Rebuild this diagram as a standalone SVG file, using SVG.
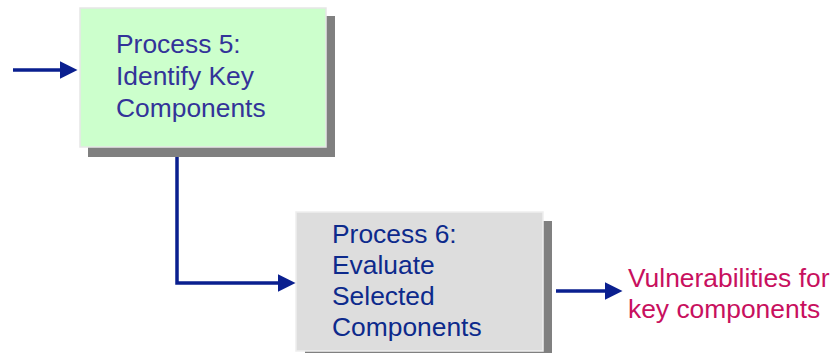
<svg xmlns="http://www.w3.org/2000/svg" width="839" height="353" viewBox="0 0 839 353">
<style>
.shadow{fill:#808080}
.t{font-family:"Liberation Sans",Arial,sans-serif;font-size:26.4px}
.c{stroke:#0A1F8F;stroke-width:3.5;fill:none}
</style>
<defs>
<marker id="ah" markerWidth="5" markerHeight="5" refX="0" refY="2.5" orient="auto" markerUnits="strokeWidth">
<path d="M0,0 L5,2.5 L0,5 Z" fill="#0A1F8F"/>
</marker>
</defs>
<rect width="839" height="353" fill="#fff"/>
<g id="p5">
<rect class="shadow" x="88" y="16" width="247" height="141"/>
<rect x="80" y="8" width="246" height="139" fill="#CCFFCC" stroke="#E6E6E6" stroke-width="1.5"/>
<text class="t" fill="#333399"><tspan x="116" y="53">Process 5:</tspan><tspan x="116" y="85">Identify Key</tspan><tspan x="116" y="117">Components</tspan></text>
</g>
<g id="p6">
<rect class="shadow" x="305" y="221" width="247" height="140"/>
<rect x="296" y="212" width="247" height="139" fill="#DDDDDD" stroke="#EEEEEE" stroke-width="1.5"/>
<text class="t" fill="#0D2A8C"><tspan x="332" y="243">Process 6:</tspan><tspan x="332" y="274">Evaluate</tspan><tspan x="332" y="305">Selected</tspan><tspan x="332" y="336">Components</tspan></text>
</g>
<g id="out">
<text class="t" fill="#C8105E"><tspan x="628" y="287">Vulnerabilities for</tspan><tspan x="628" y="318">key components</tspan></text>
</g>
<g id="connectors">
<path class="c" d="M13,70 H60" marker-end="url(#ah)"/>
<path class="c" d="M177,157 V283 H278" marker-end="url(#ah)"/>
<path class="c" d="M556,291 H605" marker-end="url(#ah)"/>
</g>
</svg>
